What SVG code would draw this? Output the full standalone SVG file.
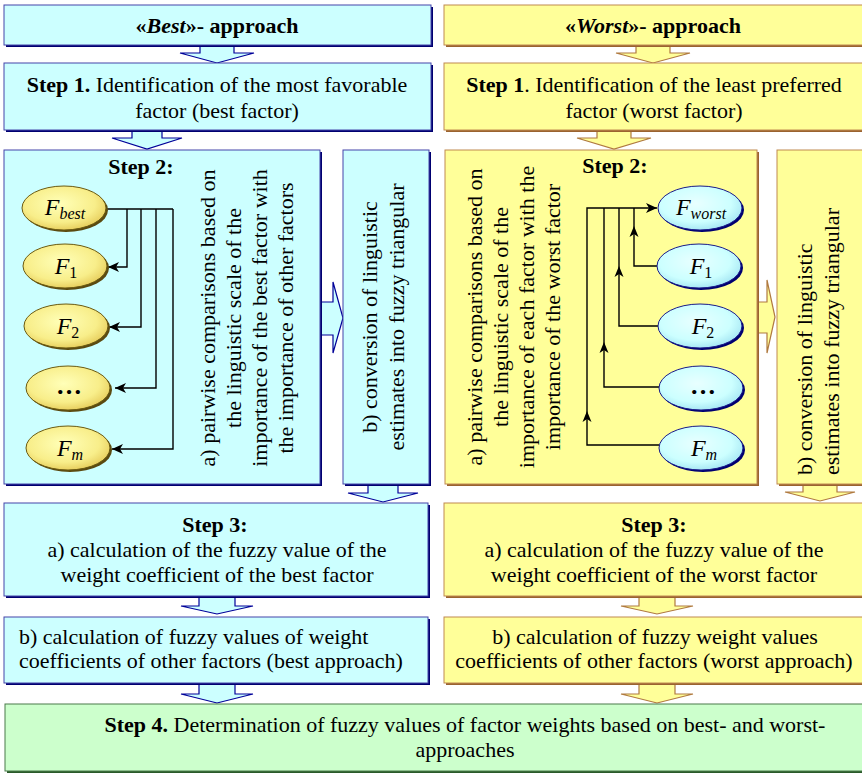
<svg xmlns="http://www.w3.org/2000/svg" width="862" height="774" viewBox="0 0 862 774">
<style>
text{font-family:'Liberation Serif',serif;font-size:22px;fill:#000}
.b{font-weight:bold}
.bi{font-weight:bold;font-style:italic}
.i{font-style:italic}
.bl{fill:#CCFFFF;stroke:#4444AA;stroke-width:1}
.bls{fill:#000070}
.yl{fill:#FFFF99;stroke:#C08A50;stroke-width:1}
.yls{fill:#9A6330}
.gr{fill:#CCFFCC;stroke:#4A7A4A;stroke-width:1}
.grs{fill:#2A5A2A}
.ablue{fill:#CCFFFF;stroke:#000099;stroke-width:1.2}
.ayel{fill:#FFFF99;stroke:#B07A40;stroke-width:1.2}
.con{fill:none;stroke:#000;stroke-width:1.4}
.ey{fill:url(#gy);stroke:#6B5A10;stroke-width:1}
.eys{fill:#5A4A10}
.eb{fill:url(#gb);stroke:#1A1A8A;stroke-width:1}
.ebs{fill:#000070}
.fl{font-size:24px;font-style:italic}
.sub{font-size:16px}
.dots{font-size:26px;font-weight:bold}
</style>
<defs>
<radialGradient id="gy" cx="0.45" cy="0.4" r="0.6">
<stop offset="0" stop-color="#FFFFB8"/>
<stop offset="0.7" stop-color="#F8EE8A"/>
<stop offset="1" stop-color="#E8D060"/>
</radialGradient>
<radialGradient id="gb" cx="0.45" cy="0.4" r="0.6">
<stop offset="0" stop-color="#E8FFFF"/>
<stop offset="0.7" stop-color="#CCFFFF"/>
<stop offset="1" stop-color="#A8E8F4"/>
</radialGradient>
<marker id="ah" markerUnits="userSpaceOnUse" markerWidth="12" markerHeight="10" refX="11" refY="5" orient="auto">
<path d="M0,0 L11,5 L0,10 L3,5 z" fill="#000"/>
</marker>
</defs>

<g id="block-arrows">
<polygon class="ablue" points="200,40 234,40 234,53 254,53 217,63 180,53 200,53"/>
<polygon class="ablue" points="132,125 162,125 162,138 182,138 147,149 112,138 132,138"/>
<polygon class="ablue" points="368,478 398,478 398,493 418,493 383,502 348,493 368,493"/>
<polygon class="ablue" points="199,590 235,590 235,606 253,606 217,614 181,606 199,606"/>
<polygon class="ablue" points="199,680 235,680 235,694 253,694 217,703 181,694 199,694"/>
<polygon class="ablue" points="315,302 333,302 333,282 343,318 333,353 333,335 315,335"/>
<polygon class="ayel" points="636,40 670,40 670,53 690,53 653,63 616,53 636,53"/>
<polygon class="ayel" points="597,125 631,125 631,138 651,138 614,149 577,138 597,138"/>
<polygon class="ayel" points="803,478 837,478 837,492 855,492 820,501 785,492 803,492"/>
<polygon class="ayel" points="639,590 675,590 675,606 693,606 657,614 621,606 639,606"/>
<polygon class="ayel" points="639,680 675,680 675,694 693,694 657,703 621,694 639,694"/>
<polygon class="ayel" points="752,302 767,302 767,280 775,317 767,353 767,333 752,333"/>
</g>

<g id="best-header">
<rect class="bls" x="6" y="7" width="427" height="40"/>
<rect class="bl" x="4" y="5" width="427" height="40"/>
<text x="217" y="33" text-anchor="middle" class="b">«<tspan class="bi">Best</tspan>»- approach</text>
</g>
<g id="worst-header">
<rect class="yls" x="446" y="7" width="420" height="40"/>
<rect class="yl" x="444" y="5" width="420" height="40"/>
<text x="653" y="33" text-anchor="middle" class="b">«<tspan class="bi">Worst</tspan>»- approach</text>
</g>

<g id="best-step1">
<rect class="bls" x="6" y="65" width="427" height="67"/>
<rect class="bl" x="4" y="63" width="427" height="67"/>
<text x="217" y="92" text-anchor="middle"><tspan class="b">Step 1.</tspan> Identification of the most favorable</text>
<text x="217" y="118" text-anchor="middle">factor (best factor)</text>
</g>
<g id="worst-step1">
<rect class="yls" x="446" y="65" width="420" height="67"/>
<rect class="yl" x="444" y="63" width="420" height="67"/>
<text x="654" y="92" text-anchor="middle"><tspan class="b">Step 1</tspan>. Identification of the least preferred</text>
<text x="654" y="118" text-anchor="middle">factor (worst factor)</text>
</g>

<g id="best-step2a">
<rect class="bls" x="6" y="152" width="316" height="334"/>
<rect class="bl" x="4" y="150" width="316" height="334"/>
<text x="141" y="174" text-anchor="middle" class="b">Step 2:</text>
<text transform="translate(215,318) rotate(-90)" text-anchor="middle">a) pairwise comparisons based on</text>
<text transform="translate(241,318) rotate(-90)" text-anchor="middle">the linguistic scale of the</text>
<text transform="translate(267,318) rotate(-90)" text-anchor="middle">importance of the best factor with</text>
<text transform="translate(293,318) rotate(-90)" text-anchor="middle">the importance of other factors</text>
</g>
<g id="best-step2b">
<rect class="bls" x="345" y="152" width="86" height="334"/>
<rect class="bl" x="343" y="150" width="86" height="334"/>
<text transform="translate(377,317) rotate(-90)" text-anchor="middle">b) conversion of linguistic</text>
<text transform="translate(404,317) rotate(-90)" text-anchor="middle">estimates into fuzzy triangular</text>
</g>

<g id="worst-step2a">
<rect class="yls" x="447" y="152" width="312" height="334"/>
<rect class="yl" x="445" y="150" width="312" height="334"/>
<text x="615" y="173" text-anchor="middle" class="b">Step 2:</text>
<text transform="translate(482,317) rotate(-90)" text-anchor="middle">a) pairwise comparisons based on</text>
<text transform="translate(508,317) rotate(-90)" text-anchor="middle">the linguistic scale of the</text>
<text transform="translate(534,317) rotate(-90)" text-anchor="middle">importance of each factor with the</text>
<text transform="translate(560,317) rotate(-90)" text-anchor="middle">importance of the worst factor</text>
</g>
<g id="worst-step2b">
<rect class="yls" x="779" y="152" width="88" height="334"/>
<rect class="yl" x="777" y="150" width="88" height="334"/>
<text transform="translate(812,475) rotate(-90)">b) conversion of linguistic</text>
<text transform="translate(839,475) rotate(-90)">estimates into fuzzy triangular</text>
</g>

<g id="connectors">
<path class="con" d="M106,209 H173"/>
<path class="con" d="M127,209 V267 H108" marker-end="url(#ah)"/>
<path class="con" d="M141,209 V327 H109" marker-end="url(#ah)"/>
<path class="con" d="M156,209 V388 H115" marker-end="url(#ah)"/>
<path class="con" d="M173,209 V449 H112" marker-end="url(#ah)"/>
<path class="con" d="M659,445 H587 V208 H657" marker-end="url(#ah)"/>
<path class="con" d="M659,387 H604 V208"/>
<path class="con" d="M658,326 H619 V208"/>
<path class="con" d="M657,266 H634 V208"/>
<path d="M587,411 L591.5,422 L587,419 L582.5,422 z" fill="#000"/>
<path d="M604,342 L608.5,353 L604,350 L599.5,353 z" fill="#000"/>
<path d="M619,266 L623.5,277 L619,274 L614.5,277 z" fill="#000"/>
<path d="M634,226 L638.5,237 L634,234 L629.5,237 z" fill="#000"/>
</g>

<g id="F-best">
<ellipse class="eys" cx="66" cy="210" rx="42" ry="22"/>
<ellipse class="ey" cx="64" cy="208" rx="42" ry="22"/>
<text x="65" y="215" text-anchor="middle"><tspan class="fl">F</tspan><tspan class="i sub" dy="4">best</tspan></text>
</g>
<g id="F1-best">
<ellipse class="eys" cx="67" cy="268" rx="42" ry="22"/>
<ellipse class="ey" cx="65" cy="266" rx="42" ry="22"/>
<text x="66" y="274" text-anchor="middle"><tspan class="fl">F</tspan><tspan class="sub" dy="4">1</tspan></text>
</g>
<g id="F2-best">
<ellipse class="eys" cx="68" cy="328" rx="42" ry="22"/>
<ellipse class="ey" cx="66" cy="326" rx="42" ry="22"/>
<text x="68" y="334" text-anchor="middle"><tspan class="fl">F</tspan><tspan class="sub" dy="4">2</tspan></text>
</g>
<g id="Fdots-best">
<ellipse class="eys" cx="70" cy="390" rx="42" ry="22"/>
<ellipse class="ey" cx="68" cy="388" rx="42" ry="22"/>
<text x="69" y="394" text-anchor="middle" class="dots">…</text>
</g>
<g id="Fm-best">
<ellipse class="eys" cx="70" cy="450" rx="42" ry="22"/>
<ellipse class="ey" cx="68" cy="448" rx="42" ry="22"/>
<text x="70" y="456" text-anchor="middle"><tspan class="fl">F</tspan><tspan class="i sub" dy="4">m</tspan></text>
</g>

<g id="F-worst">
<ellipse class="ebs" cx="702" cy="210" rx="42" ry="22"/>
<ellipse class="eb" cx="700" cy="208" rx="42" ry="22"/>
<text x="701" y="215" text-anchor="middle"><tspan class="fl">F</tspan><tspan class="i sub" dy="4">worst</tspan></text>
</g>
<g id="F1-worst">
<ellipse class="ebs" cx="701" cy="268" rx="42" ry="22"/>
<ellipse class="eb" cx="699" cy="266" rx="42" ry="22"/>
<text x="701" y="274" text-anchor="middle"><tspan class="fl">F</tspan><tspan class="sub" dy="4">1</tspan></text>
</g>
<g id="F2-worst">
<ellipse class="ebs" cx="702" cy="328" rx="42" ry="22"/>
<ellipse class="eb" cx="700" cy="326" rx="42" ry="22"/>
<text x="703" y="334" text-anchor="middle"><tspan class="fl">F</tspan><tspan class="sub" dy="4">2</tspan></text>
</g>
<g id="Fdots-worst">
<ellipse class="ebs" cx="703" cy="390" rx="42" ry="22"/>
<ellipse class="eb" cx="701" cy="388" rx="42" ry="22"/>
<text x="703" y="394" text-anchor="middle" class="dots">…</text>
</g>
<g id="Fm-worst">
<ellipse class="ebs" cx="703" cy="450" rx="42" ry="22"/>
<ellipse class="eb" cx="701" cy="448" rx="42" ry="22"/>
<text x="704" y="456" text-anchor="middle"><tspan class="fl">F</tspan><tspan class="i sub" dy="4">m</tspan></text>
</g>

<g id="best-step3a">
<rect class="bls" x="6" y="505" width="424" height="93"/>
<rect class="bl" x="4" y="503" width="424" height="93"/>
<text x="215" y="532" text-anchor="middle" class="b">Step 3:</text>
<text x="217" y="557" text-anchor="middle">a) calculation of the fuzzy value of the</text>
<text x="217" y="582" text-anchor="middle">weight coefficient of the best factor</text>
</g>
<g id="worst-step3a">
<rect class="yls" x="446" y="505" width="420" height="93"/>
<rect class="yl" x="444" y="503" width="420" height="93"/>
<text x="654" y="532" text-anchor="middle" class="b">Step 3:</text>
<text x="654" y="557" text-anchor="middle">a) calculation of the fuzzy value of the</text>
<text x="654" y="582" text-anchor="middle">weight coefficient of the worst factor</text>
</g>

<g id="best-step3b">
<rect class="bls" x="6" y="619" width="424" height="66"/>
<rect class="bl" x="4" y="617" width="424" height="66"/>
<text x="19" y="644">b) calculation of fuzzy values of weight</text>
<text x="19" y="668">coefficients of other factors (best approach)</text>
</g>
<g id="worst-step3b">
<rect class="yls" x="446" y="619" width="420" height="66"/>
<rect class="yl" x="444" y="617" width="420" height="66"/>
<text x="655" y="644" text-anchor="middle">b) calculation of fuzzy weight values</text>
<text x="654" y="668" text-anchor="middle">coefficients of other factors (worst approach)</text>
</g>

<g id="step4">
<rect class="grs" x="7" y="706" width="860" height="67"/>
<rect class="gr" x="5" y="704" width="860" height="67"/>
<text x="465" y="732" text-anchor="middle"><tspan class="b">Step 4.</tspan> Determination of fuzzy values of factor weights based on best- and worst-</text>
<text x="465" y="757" text-anchor="middle">approaches</text>
</g>
</svg>
